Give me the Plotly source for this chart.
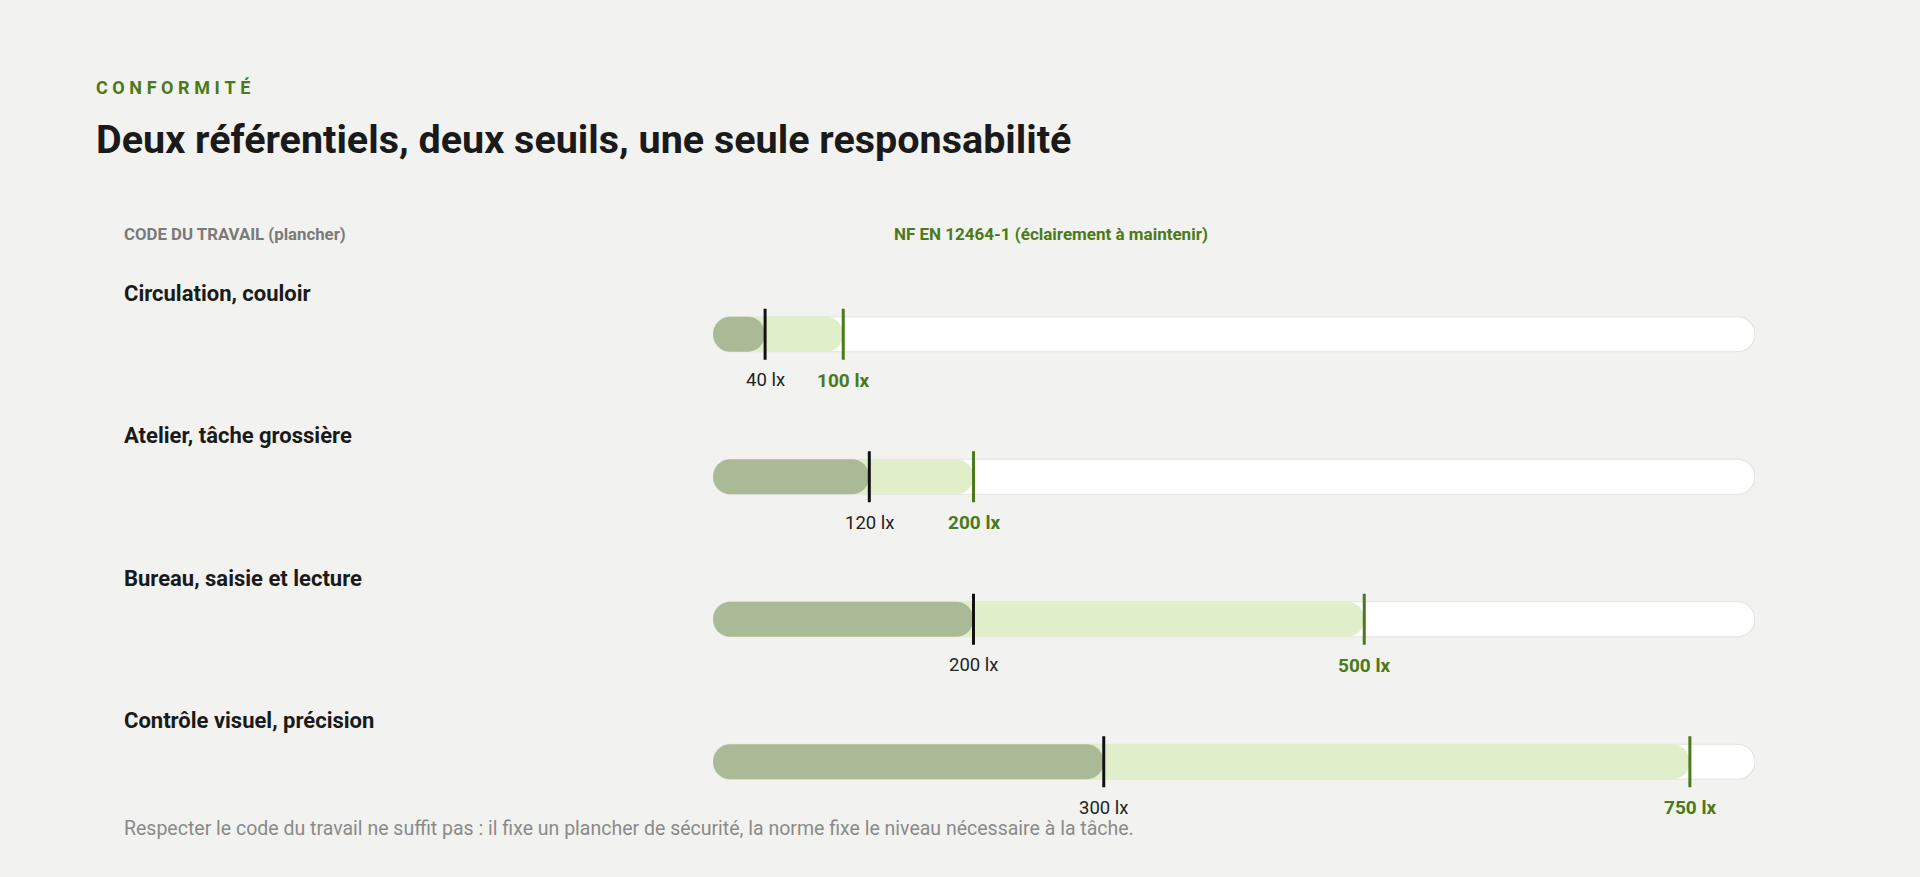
import plotly.graph_objects as go

# ---------------- data ----------------
categories = ["Circulation, couloir", "Atelier, tâche grossière",
              "Bureau, saisie et lecture", "Contrôle visuel, précision"]
code_travail = [40, 120, 200, 300]      # lx, plancher (Code du travail)
norme_en = [100, 200, 500, 750]         # lx, NF EN 12464-1
scale_max = 800
unit = "lx"

# ---------------- styles ----------------
W, H = 1920, 877
BG = "#f2f2f0"
GREEN = "#4a7a1a"
DARK = "#1a1a1a"
FILL_CODE = "#abba96"
FILL_NORM = "#e1eeca"
TRACK = "#ffffff"
TRACK_LINE = "#e2e2de"
FONT = "Roboto"

L_PX, R_PX = 712.7, 1754.7       # x-pixels of 0 and scale_max
ROW_PX = 142.5                   # vertical spacing between rows
TOP_PX = 334.5 - ROW_PX / 2      # top of plot area
BOT_PX = TOP_PX + ROW_PX * len(categories)
BAR_H = 35.0                     # bar thickness in px
TICK_H = 51.0                    # tick height in px
LEFT_TXT = 121.5                 # x pixel of left-aligned texts
TITLE_TXT = 94.0                 # x pixel of title / kicker

px_per_x = (R_PX - L_PX) / scale_max
margin = dict(l=L_PX, r=W - R_PX, t=TOP_PX, b=H - BOT_PX)


def paper_x(px):
    return (px - L_PX) / (R_PX - L_PX)


def paper_y(py):
    return (BOT_PX - py) / (BOT_PX - TOP_PX)


def pill(x0, x1, yc):
    """Rounded (pill) path between data x0..x1 centred on row yc."""
    h = (BAR_H / 2) / ROW_PX
    rx = (BAR_H / 2) / px_per_x
    k = 0.5523
    yt, yb = yc - h, yc + h
    p = (f"M {x0 + rx},{yt} L {x1 - rx},{yt} "
         f"C {x1 - rx + k * rx},{yt} {x1},{yc - k * h} {x1},{yc} "
         f"C {x1},{yc + k * h} {x1 - rx + k * rx},{yb} {x1 - rx},{yb} "
         f"L {x0 + rx},{yb} "
         f"C {x0 + rx - k * rx},{yb} {x0},{yc + k * h} {x0},{yc} "
         f"C {x0},{yc - k * h} {x0 + rx - k * rx},{yt} {x0 + rx},{yt} Z")
    return p


fig = go.Figure()
# invisible trace to set up the axes from the data
fig.add_trace(go.Scatter(x=code_travail + norme_en,
                         y=list(range(len(categories))) * 2,
                         mode="markers", marker=dict(opacity=0),
                         hoverinfo="skip", showlegend=False))

shapes = []
annotations = []
th = (TICK_H / 2) / ROW_PX
for i, (cat, c, n) in enumerate(zip(categories, code_travail, norme_en)):
    shapes.append(dict(type="path", xref="x", yref="y", path=pill(0, scale_max, i),
                       fillcolor=TRACK, line=dict(color=TRACK_LINE, width=1.2), layer="above"))
    shapes.append(dict(type="path", xref="x", yref="y", path=pill(0, n, i),
                       fillcolor=FILL_NORM, line=dict(width=0), layer="above"))
    shapes.append(dict(type="path", xref="x", yref="y", path=pill(0, c, i),
                       fillcolor=FILL_CODE, line=dict(width=0), layer="above"))
    shapes.append(dict(type="line", xref="x", yref="y", x0=c, x1=c, y0=i - th, y1=i + th,
                       line=dict(color="#111111", width=3), layer="above"))
    shapes.append(dict(type="line", xref="x", yref="y", x0=n, x1=n, y0=i - th, y1=i + th,
                       line=dict(color=GREEN, width=3), layer="above"))

    annotations.append(dict(xref="paper", yref="y", x=paper_x(LEFT_TXT), y=i, yshift=41,
                            text=f"<b>{cat}</b>", showarrow=False, xanchor="left",
                            yanchor="middle", font=dict(family=FONT, size=22, color=DARK)))
    annotations.append(dict(xref="x", yref="y", x=c, y=i, yshift=-46,
                            text=f"{c} {unit}", showarrow=False, xanchor="center",
                            yanchor="middle", font=dict(family=FONT, size=18.5, color="#222222")))
    annotations.append(dict(xref="x", yref="y", x=n, y=i, yshift=-46,
                            text=f"<b>{n} {unit}</b>", showarrow=False, xanchor="center",
                            yanchor="middle", font=dict(family=FONT, size=19, color=GREEN)))

# header texts
annotations += [
    dict(xref="paper", yref="paper", x=paper_x(TITLE_TXT), y=paper_y(88),
         text="<b>" + "\u2005".join("CONFORMITÉ") + "</b>",
         showarrow=False, xanchor="left", yanchor="middle",
         font=dict(family=FONT, size=18, color=GREEN)),
    dict(xref="paper", yref="paper", x=paper_x(TITLE_TXT), y=paper_y(140),
         text="<b>Deux référentiels, deux seuils, une seule responsabilité</b>",
         showarrow=False, xanchor="left", yanchor="middle",
         font=dict(family=FONT, size=39.5, color=DARK)),
    dict(xref="paper", yref="paper", x=paper_x(LEFT_TXT), y=paper_y(234),
         text="<b>CODE DU TRAVAIL</b> <b>(plancher)</b>",
         showarrow=False, xanchor="left", yanchor="middle",
         font=dict(family=FONT, size=16.8, color="#7a7a7a")),
    dict(xref="paper", yref="paper", x=paper_x(1051), y=paper_y(234),
         text="<b>NF EN 12464-1 (éclairement à maintenir)</b>",
         showarrow=False, xanchor="center", yanchor="middle",
         font=dict(family=FONT, size=17, color=GREEN)),
    dict(xref="paper", yref="paper", x=paper_x(LEFT_TXT), y=paper_y(829),
         text="Respecter le code du travail ne suffit pas : il fixe un plancher de sécurité, "
              "la norme fixe le niveau nécessaire à la tâche.",
         showarrow=False, xanchor="left", yanchor="middle",
         font=dict(family=FONT, size=19.5, color="#8a8a8a")),
]

fig.update_layout(
    width=W, height=H, margin=margin,
    paper_bgcolor=BG, plot_bgcolor=BG,
    shapes=shapes, annotations=annotations,
    xaxis=dict(range=[0, scale_max], visible=False, fixedrange=True),
    yaxis=dict(range=[len(categories) - 0.5, -0.5], visible=False, fixedrange=True),
    showlegend=False,
)

fig.write_html("out.html", config={"displayModeBar": False},
               post_script="document.body.style.margin='0';"
                           "document.body.style.background='" + BG + "';"
                           "document.body.style.overflow='hidden';")
